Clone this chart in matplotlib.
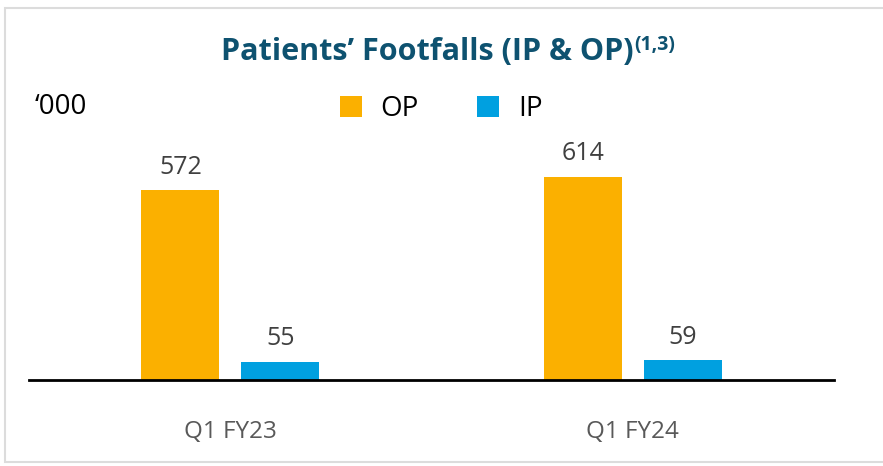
import matplotlib.pyplot as plt
import numpy as np
from matplotlib.patches import Rectangle

# data
quarters = ['Q1 FY23', 'Q1 FY24']
op_values = [572, 614]
ip_values = [55, 59]

plt.rcParams['font.family'] = ['Open Sans', 'DejaVu Sans']

fig = plt.figure(figsize=(8.83, 4.66), dpi=100)

# light card border (behind the axes)
fig.patches.append(Rectangle((5 / 883, 4 / 466), 1.2, 454 / 466, transform=fig.transFigure,
                             facecolor='white', edgecolor='#dcdcdc', lw=1.5, zorder=-1))

ax = fig.add_axes([29 / 883, 86 / 466, 805 / 883, 232 / 466])
ax.patch.set_alpha(0)

x = np.arange(len(quarters))
bar_width = 0.1935
offset = 0.124
bars_op = ax.bar(x - offset, op_values, width=bar_width, color='#FBB000', label='OP')
bars_ip = ax.bar(x + offset, ip_values, width=bar_width, color='#00A0E0', label='IP')

# value labels, baseline a little above each bar
for bars in (bars_op, bars_ip):
    for b in bars:
        ax.text(b.get_x() + b.get_width() / 2, b.get_height() + 50, f'{b.get_height():.0f}',
                ha='center', va='baseline', fontsize=18, color='#404040')

ax.set_xlim(-0.5, 1.5)
ax.set_ylim(0, 700)
ax.set_xticks(x)
ax.set_xticklabels(quarters, fontsize=17.5, color='#595959')
ax.tick_params(axis='x', length=0, pad=29)
ax.set_yticks([])
for s in ['top', 'right', 'left']:
    ax.spines[s].set_visible(False)
ax.spines['bottom'].set_linewidth(2)
ax.spines['bottom'].set_color('black')

# title with superscript
title = fig.text(427 / 883, 1 - 52 / 466, "Patients’ Footfalls (IP & OP)",
                 ha='center', va='center', fontsize=22, fontweight='bold', color='#0E5270')
fig.canvas.draw()
bb = title.get_window_extent()
fig.text(bb.x1 / 883 + 0.001, (bb.y1 + 2) / 466, '(1,3)', ha='left', va='top',
         fontsize=14, fontweight='bold', color='#0E5270')

fig.text(35 / 883, 1 - 107 / 466, '‘000', ha='left', va='center', fontsize=20, color='black')

ax.legend(handles=[bars_op, bars_ip], ncol=2, frameon=False, fontsize=20,
          loc='center', bbox_to_anchor=(441 / 883, 1 - 109 / 466), bbox_transform=fig.transFigure,
          handlelength=0.79, handleheight=0.79, handletextpad=0.68, columnspacing=2.1)

fig.savefig('out.png', dpi=100)
